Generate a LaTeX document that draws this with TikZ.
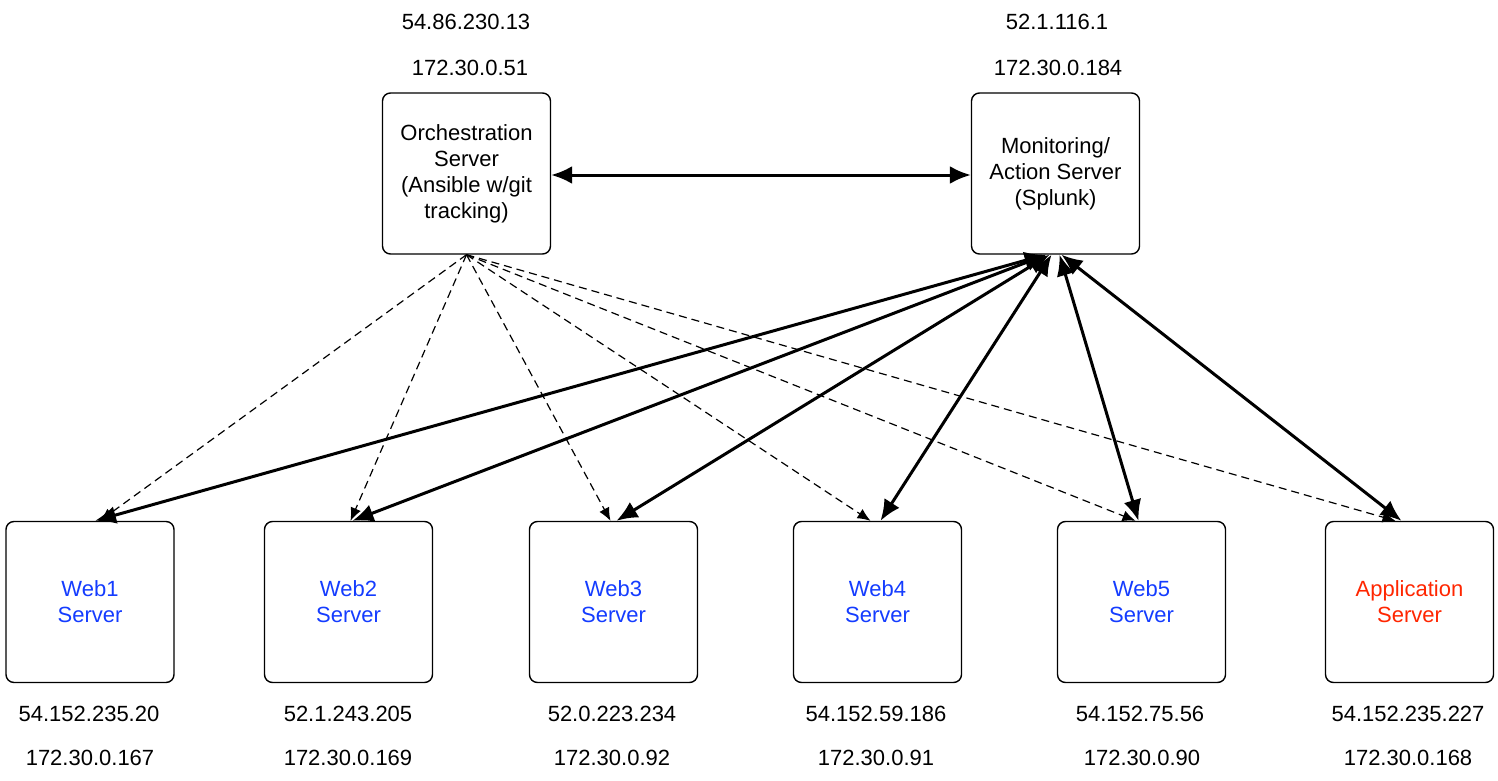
\documentclass[tikz,border=0pt]{standalone}
\usepackage{fontspec}
\setmainfont{Liberation Sans}
\usetikzlibrary{arrows.meta}
\definecolor{webblue}{RGB}{20,60,255}
\definecolor{appred}{RGB}{255,38,0}
\begin{document}
\begin{tikzpicture}[x=1pt,y=-1pt,
  box/.style={draw,rounded corners=8pt,line width=1.4pt,minimum width=168pt,minimum height=161pt,align=center,font=\fontsize{22}{26}\selectfont,inner sep=0pt},
  lbl/.style={font=\fontsize{22}{24}\selectfont,inner sep=0pt},
  dash link/.style={line width=1.2pt,dash pattern=on 8pt off 5pt,-{Latex[length=13pt,width=11pt]}},
  solid link/.style={line width=3pt,{Latex[length=21pt,width=18pt]}-{Latex[length=21pt,width=18pt]}}
]
\useasboundingbox (0,0) rectangle (1498,781);
\fill[white] (0,0) rectangle (1498,781);

% top servers
\node[box] (orch) at (466.5,173.5) {Orchestration\\Server\\(Ansible w/git\\tracking)};
\node[box] (mon) at (1055.5,173.5) {Monitoring/\\Action Server\\(Splunk)};
\node[lbl] (orchip1) at (466,22) {54.86.230.13};
\node[lbl] (orchip2) at (470,68) {172.30.0.51};
\node[lbl] (monip1) at (1057,22) {52.1.116.1};
\node[lbl] (monip2) at (1058,68) {172.30.0.184};

% bottom servers
\node[box,text=webblue] (w1) at (90,602) {Web1\\Server};
\node[box,text=webblue] (w2) at (348.5,602) {Web2\\Server};
\node[box,text=webblue] (w3) at (613.5,602) {Web3\\Server};
\node[box,text=webblue] (w4) at (877.5,602) {Web4\\Server};
\node[box,text=webblue] (w5) at (1141.5,602) {Web5\\Server};
\node[box,text=appred] (app) at (1409.5,602) {Application\\Server};

\node[lbl] (w1a) at (89,714) {54.152.235.20};
\node[lbl] (w1b) at (90,758) {172.30.0.167};
\node[lbl] (w2a) at (348,714) {52.1.243.205};
\node[lbl] (w2b) at (348,758) {172.30.0.169};
\node[lbl] (w3a) at (612,714) {52.0.223.234};
\node[lbl] (w3b) at (612,758) {172.30.0.92};
\node[lbl] (w4a) at (876,714) {54.152.59.186};
\node[lbl] (w4b) at (876,758) {172.30.0.91};
\node[lbl] (w5a) at (1140,714) {54.152.75.56};
\node[lbl] (w5b) at (1142,758) {172.30.0.90};
\node[lbl] (appa) at (1408,714) {54.152.235.227};
\node[lbl] (appb) at (1408,758) {172.30.0.168};

% orchestration <-> monitoring
\draw[solid link] (orch.east |- 0,175) -- (mon.west |- 0,175);

% dashed links from orchestration
\draw[dash link] (orch.south) -- ([xshift=10pt]w1.north);
\draw[dash link] (orch.south) -- ([xshift=2pt]w2.north);
\draw[dash link] (orch.south) -- ([xshift=-3pt]w3.north);
\draw[dash link] (orch.south) -- ([xshift=-7pt]w4.north);
\draw[dash link] (orch.south) -- ([xshift=-6pt]w5.north);
\draw[dash link] (orch.south) -- ([xshift=-14pt]app.north);

% solid links from monitoring
\draw[solid link] ([xshift=-10pt]mon.south) -- ([xshift=5pt]w1.north);
\draw[solid link] ([xshift=-9pt]mon.south) -- ([xshift=4pt]w2.north);
\draw[solid link] ([xshift=-6pt]mon.south) -- ([xshift=3pt]w3.north);
\draw[solid link] ([xshift=-4pt]mon.south) -- ([xshift=3pt]w4.north);
\draw[solid link] ([xshift=4pt]mon.south) -- ([xshift=-3pt]w5.north);
\draw[solid link] ([xshift=6pt]mon.south) -- ([xshift=-8pt]app.north);
\end{tikzpicture}
\end{document}
